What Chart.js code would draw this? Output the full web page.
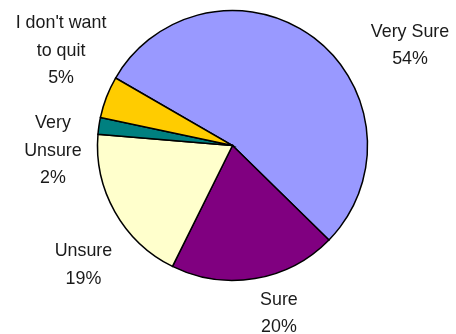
<!DOCTYPE html>
<html>
<head>
<meta charset="utf-8">
<script src="https://cdn.jsdelivr.net/npm/chart.js@4/dist/chart.umd.min.js"></script>
<style>
  html, body { margin: 0; padding: 0; background: #ffffff; }
  #wrap { width: 456px; height: 334px; position: relative; }
</style>
</head>
<body>
<div id="wrap"><canvas id="pie" width="456" height="334"></canvas></div>
<script>
// Survey answers, in clockwise drawing order
const categories = ["Very Sure", "Sure", "Unsure", "Very Unsure", "I don't want to quit"];
const labelLines = [["Very Sure"], ["Sure"], ["Unsure"], ["Very", "Unsure"], ["I don't want", "to quit"]];
const percentages = [54, 20, 19, 2, 5];
const sliceColors = ["#9999FF", "#800080", "#FFFFCC", "#008080", "#FFCC00"];

// Label block anchors, in units of the pie radius from its centre (first baseline)
const labelAnchor = [
  [1.315, -0.804],
  [0.344, 1.178],
  [-1.104, 0.822],
  [-1.330, -0.126],
  [-1.270, -0.867]
];

// Slightly condensed sans text for the callouts
const textSqueeze = 0.94;

const outsideLabels = {
  id: 'outsideLabels',
  afterDatasetsDraw(chart) {
    const ctx = chart.ctx;
    const meta = chart.getDatasetMeta(0);
    const values = chart.data.datasets[0].data;
    const lineH = 27.5;
    meta.data.forEach((arc, i) => {
      const { x, y, outerRadius } = arc.getProps(['x', 'y', 'outerRadius'], true);
      const lx = x + labelAnchor[i][0] * outerRadius;
      let ly = y + labelAnchor[i][1] * outerRadius;
      const lines = labelLines[i].concat([values[i] + '%']);
      lines.forEach(t => {
        ctx.save();
        ctx.translate(lx, ly);
        ctx.scale(textSqueeze, 1);
        ctx.font = '19px "Liberation Sans", Arial, sans-serif';
        ctx.fillStyle = '#1a1a1a';
        ctx.textAlign = 'center';
        ctx.textBaseline = 'alphabetic';
        ctx.fillText(t, 0, 0);
        ctx.restore();
        ly += lineH;
      });
    });
  }
};

new Chart(document.getElementById('pie'), {
  type: 'pie',
  data: {
    labels: categories,
    datasets: [{
      data: percentages,
      backgroundColor: sliceColors,
      borderColor: '#000000',
      borderWidth: 1.5,
      borderJoinStyle: 'miter'
    }]
  },
  options: {
    responsive: false,
    animation: false,
    rotation: -60,
    radius: 135,
    layout: { padding: { top: 10, bottom: 53, left: 92, right: 83 } },
    plugins: {
      legend: { display: false },
      tooltip: { enabled: false },
      title: { display: false }
    }
  },
  plugins: [outsideLabels]
});
</script>
</body>
</html>
